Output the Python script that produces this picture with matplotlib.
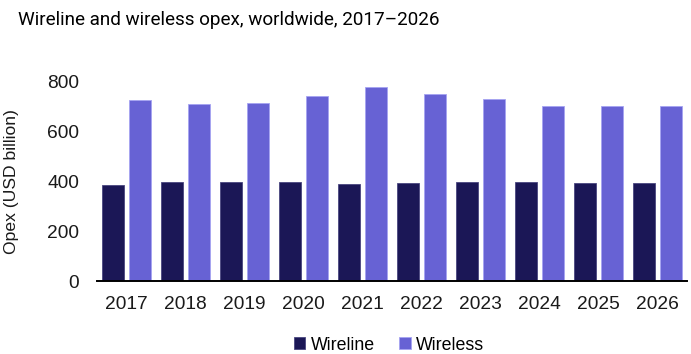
import matplotlib.pyplot as plt
import numpy as np

years = ["2017", "2018", "2019", "2020", "2021", "2022", "2023", "2024", "2025", "2026"]
wireline = [384, 397, 395, 397, 387, 391, 395, 397, 392, 392]
wireless = [723, 708, 713, 741, 777, 748, 727, 701, 701, 701]

WIRELINE_COLOR = "#1b1756"
WIRELESS_COLOR = "#6762d4"

fig = plt.figure(figsize=(6.91, 3.54), dpi=100)
ax = fig.add_axes([97 / 691, 1 - 281 / 354, 590 / 691, 200 / 354])

x = np.arange(len(years))
w = 0.36
ax.bar(x - 0.23, wireline, width=w, color=WIRELINE_COLOR, edgecolor="#4a4680",
       linewidth=0.6, label="Wireline")
ax.bar(x + 0.23, wireless, width=w, color=WIRELESS_COLOR, edgecolor="#a6a3f2",
       linewidth=0.6, label="Wireless")

ax.set_xlim(-0.5, 9.5)
ax.set_ylim(0, 800)
ax.set_yticks([0, 200, 400, 600, 800])
ax.set_xticks(x)
ax.set_xticklabels(years)
ax.tick_params(axis="both", length=0, labelsize=13.8, labelcolor="#1a1a1a",
               labelfontfamily="Liberation Sans")
ax.tick_params(axis="y", pad=13)
ax.tick_params(axis="x", pad=11)

for s in ["top", "right", "left"]:
    ax.spines[s].set_visible(False)
ax.spines["bottom"].set_linewidth(1.4)
ax.spines["bottom"].set_color("black")

ax.set_ylabel("Opex (USD billion)", fontsize=12.6, family="Liberation Sans",
              color="#1a1a1a")
ax.yaxis.set_label_coords(-0.132, 0.5)

# title font is narrow in the original, Roboto at a smaller size gets the width right
fig.text(18 / 691, 1 - 20 / 354, "Wireline and wireless opex, worldwide, 2017\u20132026",
         fontsize=13.6, family="Roboto", va="center", ha="left", color="black")

ax.legend(loc="center", bbox_to_anchor=(0.495, (281 - 345) / 200), ncol=2, frameon=False,
          prop={"family": "Liberation Sans", "size": 12.8}, handlelength=0.65,
          handleheight=0.65, handletextpad=0.3, columnspacing=1.4)

fig.savefig("out.png", dpi=100)
